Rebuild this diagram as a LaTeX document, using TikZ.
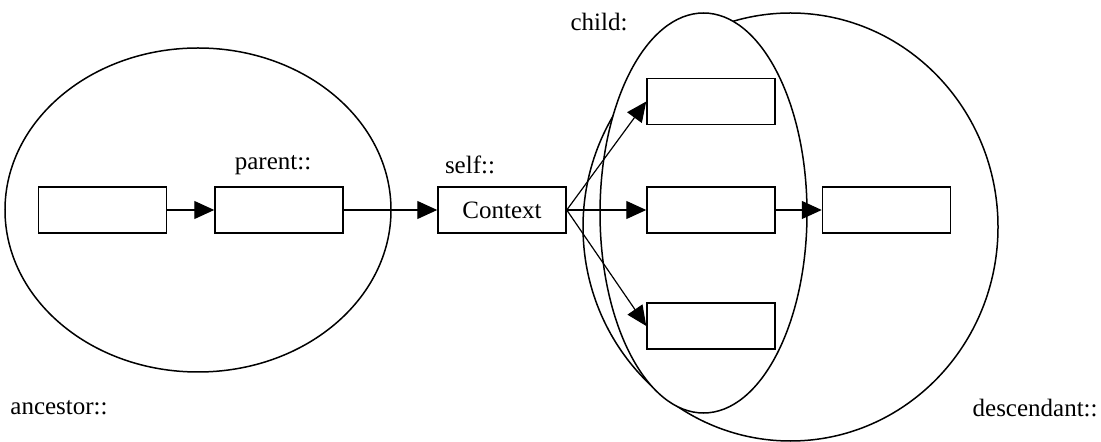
\documentclass[tikz,border=0pt]{standalone}
\usepackage{fontspec}
\setmainfont{Liberation Serif}
\usetikzlibrary{arrows.meta}
\begin{document}
\begin{tikzpicture}[x=0.5pt,y=-0.5pt,
  every node/.style={font=\fontsize{12.5}{15}\selectfont},
  axisbox/.style={draw,line width=0.75pt,minimum width=64pt,minimum height=23pt,inner sep=0pt},
  lbl/.style={inner sep=0pt},
  link/.style={line width=0.6pt,-{Triangle[length=10pt,width=9pt]}},
  region/.style={line width=0.75pt}]
\useasboundingbox (0,0) rectangle (1101,442);
% axis regions (the child region is filled so it hides the descendant arc behind it)
\draw[region] (198,210) ellipse [x radius=193, y radius=162];
\draw[region] (790.5,227) ellipse [x radius=207.5, y radius=214];
\draw[region,fill=white] (703.5,213) ellipse [x radius=103.5, y radius=200];
% boxes
\node[axisbox] (a1) at (102.5,210) {};
\node[axisbox] (a2) at (279,210) {};
\node[axisbox] (ctx) at (502,210) {Context};
\node[axisbox] (c1) at (711,101.5) {};
\node[axisbox] (c2) at (711,210) {};
\node[axisbox] (c3) at (711,326) {};
\node[axisbox] (d1) at (886.5,210) {};
% labels
\node[lbl] (lparent) at (273,165) {parent::};
\node[lbl] (lself) at (470,165) {self::};
\node[lbl] (lchild) at (599,22) {child:};
\node[lbl,anchor=west] (lanc) at (10,408) {ancestor::};
\node[lbl,anchor=east] (ldesc) at (1098,408) {descendant::};
% connectors
\draw[link] (a1.east) -- (a2.west);
\draw[link] (a2.east) -- (ctx.west);
\draw[link] (ctx.east) -- (c1.west);
\draw[link] (ctx.east) -- (c2.west);
\draw[link] (ctx.east) -- (c3.west);
\draw[link] (c2.east) -- (d1.west);
\end{tikzpicture}
\end{document}
